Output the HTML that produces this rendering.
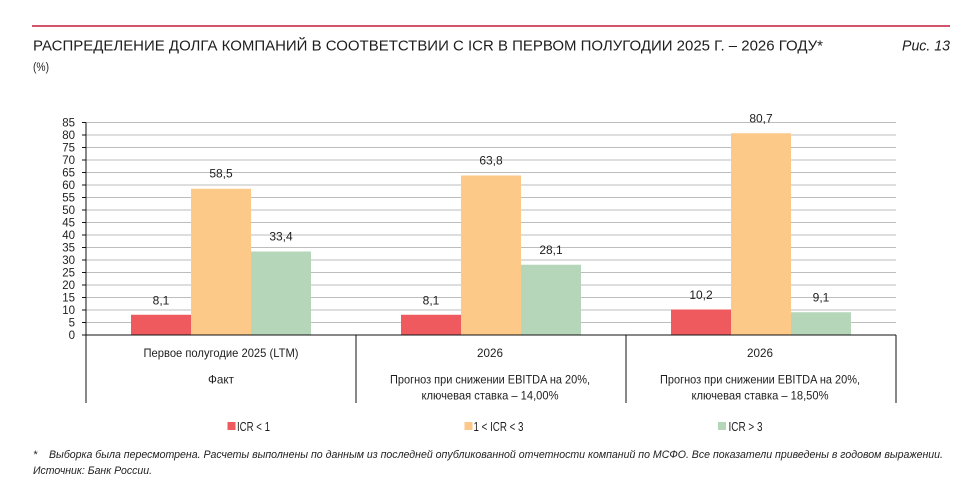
<!DOCTYPE html>
<html><head><meta charset="utf-8"><style>
html,body{margin:0;padding:0;background:#fff;}
svg{display:block;}
text{font-family:"Liberation Sans",sans-serif;fill:#1e1e1e;}
</style></head><body>
<svg width="973" height="495" viewBox="0 0 973 495" xmlns="http://www.w3.org/2000/svg">
<rect width="973" height="495" fill="#fff"/>
<line x1="32" y1="26" x2="950" y2="26" stroke="#c61a3c" stroke-width="1.5"/>
<text x="33" y="50.5" font-size="15" textLength="790" lengthAdjust="spacingAndGlyphs">РАСПРЕДЕЛЕНИЕ ДОЛГА КОМПАНИЙ В СООТВЕТСТВИИ С ICR В ПЕРВОМ ПОЛУГОДИИ 2025 Г. – 2026 ГОДУ*</text>
<text x="902" y="50.5" font-size="15" font-style="italic" textLength="48" lengthAdjust="spacingAndGlyphs">Рис. 13</text>
<text x="33" y="71" font-size="11.5" textLength="16" lengthAdjust="spacingAndGlyphs">(%)</text>

<g stroke="#bdbdbd" stroke-width="1">
<line x1="86" y1="322.5" x2="896" y2="322.5"/>
<line x1="86" y1="310" x2="896" y2="310"/>
<line x1="86" y1="297.5" x2="896" y2="297.5"/>
<line x1="86" y1="285" x2="896" y2="285"/>
<line x1="86" y1="272.5" x2="896" y2="272.5"/>
<line x1="86" y1="260" x2="896" y2="260"/>
<line x1="86" y1="247.5" x2="896" y2="247.5"/>
<line x1="86" y1="235" x2="896" y2="235"/>
<line x1="86" y1="222.5" x2="896" y2="222.5"/>
<line x1="86" y1="210" x2="896" y2="210"/>
<line x1="86" y1="197.5" x2="896" y2="197.5"/>
<line x1="86" y1="185" x2="896" y2="185"/>
<line x1="86" y1="172.5" x2="896" y2="172.5"/>
<line x1="86" y1="160" x2="896" y2="160"/>
<line x1="86" y1="147.5" x2="896" y2="147.5"/>
<line x1="86" y1="135" x2="896" y2="135"/>
<line x1="86" y1="122.5" x2="896" y2="122.5"/>
</g>

<!-- bars -->
<rect x="131" y="314.75" width="60" height="20.25" fill="#ee5a5d"/>
<rect x="191" y="188.75" width="60" height="146.25" fill="#fdc988"/>
<rect x="251" y="251.5" width="60" height="83.5" fill="#b6d6ba"/>

<rect x="401" y="314.75" width="60" height="20.25" fill="#ee5a5d"/>
<rect x="461" y="175.5" width="60" height="159.5" fill="#fdc988"/>
<rect x="521" y="264.75" width="60" height="70.25" fill="#b6d6ba"/>

<rect x="671" y="309.5" width="60" height="25.5" fill="#ee5a5d"/>
<rect x="731" y="133.25" width="60" height="201.75" fill="#fdc988"/>
<rect x="791" y="312.25" width="60" height="22.75" fill="#b6d6ba"/>

<!-- value labels -->
<g font-size="12" text-anchor="middle">
<text x="161" y="304.5">8,1</text>
<text x="221" y="177.7">58,5</text>
<text x="281" y="240.5">33,4</text>
<text x="431" y="304.5">8,1</text>
<text x="491" y="164.5">63,8</text>
<text x="551" y="254">28,1</text>
<text x="701" y="299">10,2</text>
<text x="761" y="122.5">80,7</text>
<text x="821" y="301.5">9,1</text>
</g>

<!-- axes -->
<g stroke="#111" stroke-width="1">
<line x1="86" y1="122.5" x2="86" y2="403"/>
<line x1="86" y1="335" x2="896" y2="335"/>
<line x1="356" y1="335" x2="356" y2="403"/>
<line x1="626" y1="335" x2="626" y2="403"/>
<line x1="896" y1="335" x2="896" y2="403"/>
<line x1="82" y1="335" x2="86" y2="335"/>
<line x1="82" y1="322.5" x2="86" y2="322.5"/>
<line x1="82" y1="310" x2="86" y2="310"/>
<line x1="82" y1="297.5" x2="86" y2="297.5"/>
<line x1="82" y1="285" x2="86" y2="285"/>
<line x1="82" y1="272.5" x2="86" y2="272.5"/>
<line x1="82" y1="260" x2="86" y2="260"/>
<line x1="82" y1="247.5" x2="86" y2="247.5"/>
<line x1="82" y1="235" x2="86" y2="235"/>
<line x1="82" y1="222.5" x2="86" y2="222.5"/>
<line x1="82" y1="210" x2="86" y2="210"/>
<line x1="82" y1="197.5" x2="86" y2="197.5"/>
<line x1="82" y1="185" x2="86" y2="185"/>
<line x1="82" y1="172.5" x2="86" y2="172.5"/>
<line x1="82" y1="160" x2="86" y2="160"/>
<line x1="82" y1="147.5" x2="86" y2="147.5"/>
<line x1="82" y1="135" x2="86" y2="135"/>
<line x1="82" y1="122.5" x2="86" y2="122.5"/>
</g>

<!-- y tick labels -->
<g font-size="11.5" text-anchor="end">
<text x="75" y="339">0</text>
<text x="75" y="326.5">5</text>
<text x="75" y="314">10</text>
<text x="75" y="301.5">15</text>
<text x="75" y="289">20</text>
<text x="75" y="276.5">25</text>
<text x="75" y="264">30</text>
<text x="75" y="251.5">35</text>
<text x="75" y="239">40</text>
<text x="75" y="226.5">45</text>
<text x="75" y="214">50</text>
<text x="75" y="201.5">55</text>
<text x="75" y="189">60</text>
<text x="75" y="176.5">65</text>
<text x="75" y="164">70</text>
<text x="75" y="151.5">75</text>
<text x="75" y="139">80</text>
<text x="75" y="126.5">85</text>
</g>

<!-- category labels -->
<g font-size="12" text-anchor="middle">
<text x="221" y="357" textLength="155" lengthAdjust="spacingAndGlyphs">Первое полугодие 2025 (LTM)</text>
<text x="221" y="383.5" textLength="26" lengthAdjust="spacingAndGlyphs">Факт</text>
<text x="490" y="357" textLength="26" lengthAdjust="spacingAndGlyphs">2026</text>
<text x="490" y="383.5" textLength="200" lengthAdjust="spacingAndGlyphs">Прогноз при снижении EBITDA на 20%,</text>
<text x="490" y="399.5" textLength="137" lengthAdjust="spacingAndGlyphs">ключевая ставка – 14,00%</text>
<text x="760" y="357" textLength="26" lengthAdjust="spacingAndGlyphs">2026</text>
<text x="760" y="383.5" textLength="200" lengthAdjust="spacingAndGlyphs">Прогноз при снижении EBITDA на 20%,</text>
<text x="760" y="399.5" textLength="137" lengthAdjust="spacingAndGlyphs">ключевая ставка – 18,50%</text>
</g>

<!-- legend -->
<rect x="227.5" y="422" width="8" height="8" fill="#ee5a5d"/>
<text x="237" y="431" font-size="13" textLength="33" lengthAdjust="spacingAndGlyphs">ICR &lt; 1</text>
<rect x="464.5" y="422" width="8" height="8" fill="#fdc988"/>
<text x="473.5" y="431" font-size="13" textLength="50" lengthAdjust="spacingAndGlyphs">1 &lt; ICR &lt; 3</text>
<rect x="718" y="422" width="8" height="8" fill="#b6d6ba"/>
<text x="728.5" y="431" font-size="13" textLength="34" lengthAdjust="spacingAndGlyphs">ICR &gt; 3</text>

<!-- footnote -->
<text x="33" y="458" font-size="11" font-style="italic">*</text>
<text x="49" y="458" font-size="11" font-style="italic" textLength="894" lengthAdjust="spacingAndGlyphs">Выборка была пересмотрена. Расчеты выполнены по данным из последней опубликованной отчетности компаний по МСФО. Все показатели приведены в годовом выражении.</text>
<text x="33" y="474" font-size="11" font-style="italic" textLength="119" lengthAdjust="spacingAndGlyphs">Источник: Банк России.</text>
</svg>
</body></html>
